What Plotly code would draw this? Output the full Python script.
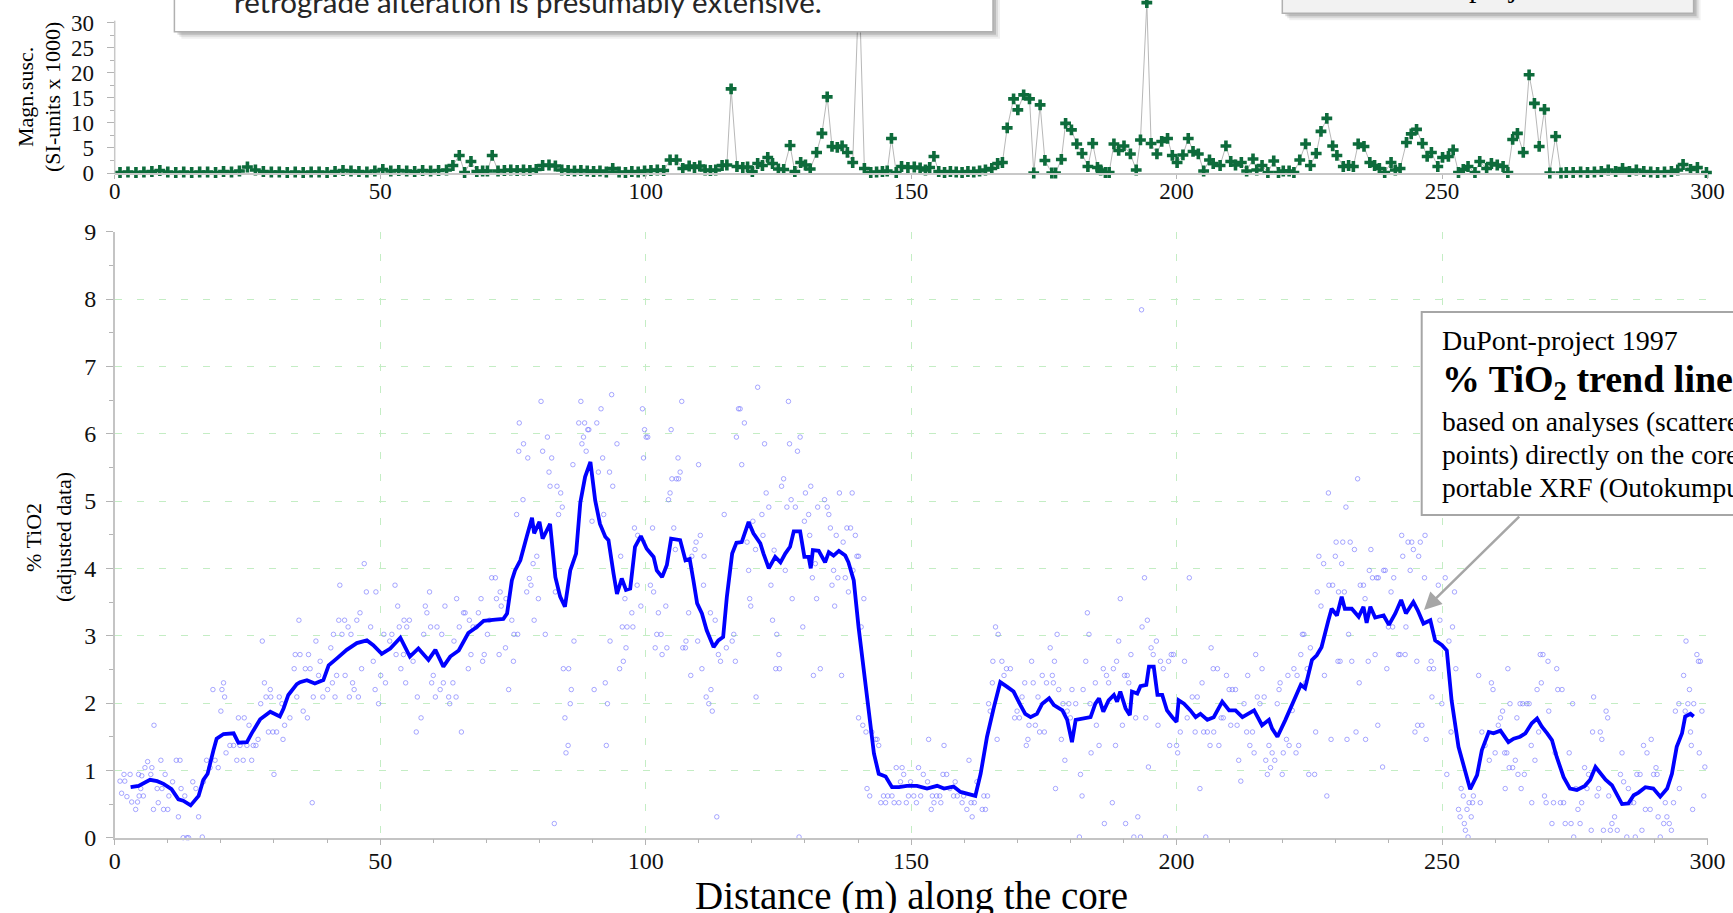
import plotly.graph_objects as go

W, H = 1733, 913


def px(v):
    return v / W


def py(v):
    return 1 - v / H


# ---------------- data ----------------
dist_ticks = [0, 50, 100, 150, 200, 250, 300]
tio2_ticks = [0, 1, 2, 3, 4, 5, 6, 7, 8, 9]
mag_ticks = [0, 5, 10, 15, 20, 25, 30]

# magnetic susceptibility readings (distance m, SI x 1000)
mag_readings = [
    (1, 0.1), (2.5, 0.2), (4, 0.1), (5.5, 0.2), (7, 0.3), (8.5, 0.5), (10, 0.2), (11.5, 0.1), (13, 0.2), (14.5, 0.1),
    (16, 0.2), (17.5, 0.2), (19, 0.1), (20.5, 0.3), (22, 0.2), (23.5, 0.4), (25, 1.2), (26.5, 0.6), (28, 0.3), (29.5, 0.2),
    (31, 0.2), (32.5, 0.1), (34, 0.2), (35.5, 0.1), (37, 0.2), (38.5, 0.2), (40, 0.1), (41.5, 0.3), (43, 0.5), (44.5, 0.4),
    (46, 0.3), (47.5, 0.2), (49, 0.4), (50.5, 0.7), (52, 0.4), (53.5, 0.5), (55, 0.4), (56.5, 0.3), (58, 0.5), (59.5, 0.4),
    (61, 0.5), (62.5, 0.6),
    (63.7, 1.5), (64.9, 3.5), (65.9, 0.1), (67.1, 2.3), (68.2, 0.3), (69.3, 0.4), (70.2, 0.4), (71.1, 3.5), (72.2, 0.4), (73.4, 0.5),
    (74.6, 0.6), (75.8, 0.5), (77, 0.6), (78.2, 0.5), (79.4, 0.7), (80.6, 1.5), (81.8, 1.6), (83, 1.4), (84.2, 0.6), (85.4, 0.5),
    (86.6, 0.4), (87.8, 0.5), (89, 0.4), (90.2, 0.3), (91.4, 0.4), (92.6, 0.2), (93.8, 0.9), (95, 0.2), (96.2, 0.1), (97.4, 0.3),
    (98.6, 0.2), (99.8, 0.4), (101, 0.5), (102.2, 0.6), (103.4, 0.5), (104.6, 2.6), (105.8, 2.6), (107, 0.9), (108.2, 1.4), (109.2, 1.1),
    (110.2, 1.4), (111.2, 0.6), (112.2, 0.5), (113.2, 0.6), (114.4, 1.5), (115.3, 1.6), (116.1, 16.8), (117.2, 1.3), (118.3, 1.1), (119.2, 1.2),
    (120.1, 0.3), (121.1, 1.9), (122, 1.5), (123, 3.1), (123.9, 1.9), (125, 0.8), (126, 0.7), (127.2, 5.5), (128.1, 0.3), (129.2, 2.1),
    (130.1, 1.6), (131, 0.8), (132.2, 4.1), (133.2, 7.9), (134.2, 15.2), (135.1, 5.3), (136.1, 5.1), (137, 5.4), (138, 4.1), (139, 2.1),
    (140.2, 38), (141.2, 0.9), (142.4, 0.1), (143.5, 0.2), (144.6, 0.3), (145.5, 0.4), (146.3, 6.9), (147.2, 0.1), (148.2, 1.3), (149.4, 1.1),
    (150.6, 1.2), (151.7, 1.0), (152.7, 0.6), (153.5, 1.1), (154.3, 3.3), (155.2, 0.3), (156.3, 0.1), (157.4, 0.3), (158.5, 0.2), (159.6, 0.1),
    (160.7, 0.3), (161.8, 0.2), (162.9, 0.4), (164, 0.6), (165.2, 0.9), (166.3, 1.9),
    (167.2, 2.1), (168.1, 9.0), (169.3, 14.8), (170.1, 12.6), (171.2, 15.6), (172.3, 14.8), (173.1, 0), (174.3, 13.6), (175.2, 2.5), (176.5, 0),
    (177.2, 0), (178.3, 2.7), (179.1, 9.9), (180.2, 8.6), (181.2, 5.8), (182.2, 3.9), (183.3, 1.3), (184.2, 5.9), (185.1, 1.1), (185.7, 0.6),
    (186.6, 0.1), (187.3, 0.1), (188.2, 5.8), (189.1, 4.5), (190.1, 5.4), (191.3, 3.8), (192.4, 0.6), (193.2, 6.6), (194.4, 34.0), (195.2, 5.9),
    (196.3, 3.8), (197.2, 6.3), (198.3, 6.9), (199.2, 3.5), (200.1, 2.1), (201.2, 3.6), (202.2, 6.9), (203.1, 4.3), (204.1, 3.8), (205.1, 0.4),
    (206.2, 2.6), (206.9, 1.9), (208.2, 1.5), (209.3, 5.4), (210.2, 2.3), (211.1, 1.6), (212.2, 2.1), (213.2, 0.4), (214.4, 2.8), (215.1, 0.6),
    (216.1, 1.5), (217.2, 0.1), (218.3, 2.4), (219.2, 0.1), (220.1, 0.4), (221.2, 0.4), (222.1, 0.1), (223.2, 2.6), (224.3, 5.8), (225.2, 1.5),
    (226.3, 3.9), (227.2, 8.3), (228.3, 10.9), (229.4, 5.4), (230.2, 3.5), (231.4, 1.3), (232.4, 1.5), (233.3, 1.3), (234.2, 5.8), (235.3, 5.3),
    (236.4, 2.1), (237.3, 1.5), (238.2, 0.9), (239.2, 0.1), (240.4, 2.1), (241.2, 0.6), (242.1, 0.9), (243.3, 6.1), (244.2, 7.8), (245.2, 8.7),
    (246.3, 5.9), (247.2, 3.3), (248.0, 4.1), (249.2, 1.3), (250.1, 3.1), (251.2, 3.3), (252.1, 4.6), (253.1, 0.1), (254.0, 0.7), (254.9, 1.3),
    (256.2, 0.1), (257.1, 2.3), (258.4, 0.9), (259.3, 1.9), (260.4, 1.6), (261.5, 1.3), (262.4, 0.1), (263.3, 6.7), (264.2, 7.9), (265.3, 4.1),
    (266.4, 19.6), (267.4, 13.9), (268.3, 5.3), (269.3, 12.7), (270.3, 0), (271.4, 7.3), (272.4, 0),
    (273.4, 0.1), (274.7, 0.1), (276.1, 0.2), (277.4, 0.1), (278.7, 0.2), (280.0, 0.3), (281.3, 0.6), (282.7, 0.3), (284.0, 0.9), (285.3, 0.3),
    (286.6, 0.6), (288.0, 0.3), (289.3, 0.2), (290.6, 0.1), (291.9, 0.2), (293.2, 0.3), (294.4, 0.6), (295.4, 1.7), (296.8, 0.7), (298.1, 1.1),
    (299.8, 0.1),
]

# TiO2 trend line (distance m, % TiO2)
trend = [
    (3.0, 0.75), (4.5, 0.77), (6.65, 0.86), (8.0, 0.84), (9.2, 0.80), (10.7, 0.72), (12.0, 0.57), (12.9, 0.55), (14.3, 0.48), (15.8, 0.62),
    (16.7, 0.86), (17.5, 0.95), (18.6, 1.30), (19.2, 1.47), (20.5, 1.54), (22.4, 1.55), (23.3, 1.41), (24.9, 1.42), (25.8, 1.55), (27.4, 1.76),
    (29.3, 1.87), (31.1, 1.80), (31.8, 1.92), (32.7, 2.12), (34.3, 2.28), (34.9, 2.31), (36.2, 2.34), (37.7, 2.29), (39.3, 2.34), (40.3, 2.56),
    (41.8, 2.66), (43.7, 2.79), (45.6, 2.89), (47.5, 2.93), (48.7, 2.86), (50.3, 2.73), (51.9, 2.81), (53.8, 2.97), (55.6, 2.69), (57.2, 2.81),
    (59.1, 2.64), (60.4, 2.79), (61.9, 2.54), (63.2, 2.69), (64.8, 2.78), (66.6, 3.04), (68.2, 3.13), (69.5, 3.22), (71.7, 3.24), (73.2, 3.25),
    (73.9, 3.33), (74.8, 3.82), (75.4, 3.97), (76.4, 4.12), (77.6, 4.47), (78.6, 4.75), (79.0, 4.52), (80.0, 4.69), (80.6, 4.44), (82.0, 4.66),
    (83.0, 3.87), (83.9, 3.58), (84.8, 3.43), (85.8, 3.97), (86.9, 4.22), (87.7, 4.98), (88.6, 5.36), (89.6, 5.58), (90.5, 5.01), (91.4, 4.66),
    (92.4, 4.47), (93.0, 4.42), (93.96, 3.92), (94.6, 3.62), (95.5, 3.85), (96.3, 3.68), (97.1, 3.70), (98.0, 4.32), (99.1, 4.48), (100.2, 4.29),
    (101.5, 4.17), (102.1, 3.97), (103.1, 3.87), (104.0, 4.05), (104.8, 4.44), (106.5, 4.42), (107.5, 4.12), (108.3, 4.14), (109.0, 3.82), (109.7, 3.48),
    (110.6, 3.33), (111.5, 3.08), (112.8, 2.83), (113.7, 2.93), (114.6, 2.98), (115.3, 3.58), (116.3, 4.22), (117.1, 4.38), (118.1, 4.39), (119.4, 4.69),
    (120.3, 4.52), (121.6, 4.37), (122.2, 4.22), (123.2, 4.00), (124.4, 4.17), (125.4, 4.09), (126.3, 4.22), (127.2, 4.32), (127.9, 4.55), (129.1, 4.55),
    (129.9, 4.17), (130.7, 4.17), (131.1, 4.00), (131.5, 4.27), (132.6, 4.26), (133.8, 4.09), (134.5, 4.24), (135.4, 4.19), (136.4, 4.26), (137.6, 4.19),
    (138.2, 4.09), (139.2, 3.82), (140.1, 3.13), (141.1, 2.49), (142.0, 1.94), (143.0, 1.25), (143.9, 0.95), (145.2, 0.91), (146.4, 0.75), (147.7, 0.75),
    (149.2, 0.77), (151.1, 0.77), (153.0, 0.73), (154.9, 0.77), (156.2, 0.73), (158.0, 0.76), (159.3, 0.68), (160.5, 0.66), (162.1, 0.62), (163.1, 0.95),
    (164.3, 1.50), (165.6, 1.94), (166.8, 2.31), (168.1, 2.24), (169.3, 2.17), (170.6, 1.97), (171.5, 1.84), (172.5, 1.79), (173.7, 1.84), (174.7, 1.99),
    (176.0, 2.07), (176.9, 1.97), (178.5, 1.89), (179.4, 1.75), (180.3, 1.42), (181.0, 1.75), (182.5, 1.77), (183.8, 1.79), (184.7, 1.99), (185.4, 2.07),
    (186.2, 1.87), (187.2, 2.04), (188.2, 2.12), (188.8, 2.02), (189.4, 2.17), (190.4, 1.92), (191.2, 1.82), (191.6, 2.17), (192.6, 2.14), (193.2, 2.25),
    (194.3, 2.27), (194.8, 2.54), (195.7, 2.54), (196.4, 2.12), (197.3, 2.12), (198.2, 1.89), (199.2, 1.79), (200.0, 1.72), (200.4, 2.04), (201.4, 1.99),
    (202.6, 1.89), (203.6, 1.79), (204.5, 1.84), (205.8, 1.75), (207.0, 1.79), (208.6, 2.02), (209.9, 1.89), (211.1, 1.89), (212.4, 1.79), (213.6, 1.84),
    (214.6, 1.89), (216.1, 1.67), (217.4, 1.75), (218.0, 1.62), (219.0, 1.50), (220.5, 1.75), (221.8, 1.97), (223.4, 2.27), (224.2, 2.22), (225.5, 2.64),
    (226.4, 2.71), (227.3, 2.83), (228.6, 3.23), (229.2, 3.40), (230.2, 3.30), (231.1, 3.58), (231.7, 3.40), (233.0, 3.40), (234.3, 3.28), (235.2, 3.43),
    (235.8, 3.19), (236.5, 3.43), (237.4, 3.27), (239.0, 3.30), (240.0, 3.16), (241.2, 3.33), (242.3, 3.53), (243.2, 3.33), (244.6, 3.50), (245.4, 3.38),
    (246.5, 3.18), (247.8, 3.23), (248.7, 2.93), (250.0, 2.86), (250.9, 2.78), (251.8, 2.04), (253.1, 1.35), (254.4, 1.00), (255.3, 0.72), (256.6, 0.93),
    (257.5, 1.30), (258.8, 1.57), (259.7, 1.55), (261.0, 1.59), (262.5, 1.42), (263.5, 1.47), (264.7, 1.50), (265.7, 1.55), (266.9, 1.70), (267.9, 1.77),
    (268.8, 1.65), (269.8, 1.55), (270.7, 1.45), (271.6, 1.20), (272.9, 0.90), (274.1, 0.73), (275.4, 0.71), (276.9, 0.77), (277.9, 0.86), (278.9, 1.05),
    (279.8, 0.95), (280.8, 0.86), (282.0, 0.78), (283.0, 0.63), (283.9, 0.50), (285.1, 0.51), (286.1, 0.63), (287.0, 0.67), (288.3, 0.75), (289.8, 0.73),
    (291.1, 0.61), (292.4, 0.73), (293.3, 0.95), (294.2, 1.35), (295.2, 1.55), (295.8, 1.80), (296.8, 1.84), (297.4, 1.80),
]

# XRF analyses on the core (distance m, % TiO2), by core section
samples_0_76 = [
    (1.0, 0.84), (1.75, 0.94), (1.9, 0.84), (1.3, 0.66), (2.3, 0.61), (2.9, 0.94), (3.2, 0.53), (3.95, 0.42), (4.3, 0.53), (4.5, 0.94),
    (5.1, 0.92), (4.9, 0.73), (4.6, 0.62), (5.4, 0.62), (5.7, 1.04), (6.2, 1.13), (7.0, 1.04), (6.8, 0.94), (7.4, 1.67), (7.3, 0.42),
    (8.0, 0.73), (8.2, 0.52), (8.7, 1.15), (8.9, 0.73), (9.2, 0.42), (9.5, 0.94), (10.0, 0.42), (10.2, 0.62), (10.9, 0.83), (11.6, 1.15),
    (12.3, 1.15), (12.0, 0.31), (12.5, 0.73), (13.2, 0.62), (12.9, 0.0), (13.6, 0.0), (13.9, 0.0), (14.7, 0.83), (15.3, 0.73), (15.8, 0.31),
    (16.5, 0.01), (16.7, 0.83), (17.3, 1.15), (17.96, 1.04), (18.9, 1.15), (19.5, 1.04), (18.5, 2.20), (20.2, 2.20), (20.5, 2.30), (20.7, 2.09),
    (20.0, 1.88), (20.97, 1.26), (21.7, 1.37), (22.4, 1.37), (23.0, 1.15), (23.3, 1.78), (23.6, 1.37), (24.2, 1.15), (24.4, 1.78), (24.9, 1.37),
    (25.3, 1.67), (25.8, 1.15), (26.1, 1.37), (26.6, 1.37), (27.0, 1.46), (27.5, 1.99), (27.8, 2.92), (28.2, 2.30), (28.5, 2.09), (29.3, 2.20),
    (29.4, 2.09), (28.95, 1.57), (29.8, 1.57), (30.0, 0.94), (30.5, 1.57), (31.0, 2.09), (31.5, 1.99), (31.7, 1.46), (32.0, 1.67), (33.0, 1.78),
    (33.8, 2.51), (34.0, 2.72), (34.3, 2.09), (34.7, 3.23), (34.9, 2.72), (35.5, 1.88), (35.9, 2.51), (36.3, 1.78), (36.5, 2.72), (36.8, 2.51),
    (37.2, 0.52), (37.4, 2.09), (37.9, 2.92), (38.4, 2.41), (38.7, 2.62), (39.2, 2.09), (40.1, 2.20), (40.7, 2.82), (41.0, 2.30), (41.5, 2.09),
    (41.2, 3.02), (41.8, 2.41), (42.2, 3.23), (42.4, 3.75), (42.8, 3.02), (43.3, 3.23), (43.4, 2.41), (43.96, 3.13), (44.2, 2.09), (44.5, 3.02),
    (44.8, 2.30), (45.1, 2.20), (45.6, 3.23), (45.9, 2.09), (46.2, 3.34), (46.5, 2.51), (47.0, 4.07), (47.4, 3.65), (48.2, 3.13), (48.7, 2.62),
    (49.05, 2.20), (49.2, 3.65), (49.7, 1.99), (50.1, 2.41), (50.7, 3.02), (51.0, 2.30), (51.8, 2.92), (52.2, 3.02), (52.8, 3.75), (53.0, 2.72),
    (53.3, 3.44), (53.6, 3.13), (53.9, 2.51), (54.4, 2.72), (54.5, 3.23), (54.8, 2.30), (55.0, 3.13), (55.5, 3.23), (56.2, 2.62), (56.8, 1.57),
    (57.0, 2.09), (57.7, 1.78), (58.2, 3.02), (58.5, 3.44), (58.8, 3.34), (59.3, 3.65), (59.5, 3.13), (59.7, 2.30), (60.0, 2.41), (60.4, 2.09),
    (60.7, 3.13), (61.3, 2.20), (61.6, 3.02), (61.9, 2.30), (62.2, 3.44), (62.9, 2.09), (63.1, 1.99), (63.7, 2.30), (63.9, 2.92), (64.3, 2.09),
    (64.4, 3.55), (64.9, 3.13), (65.3, 1.57), (65.7, 3.34), (66.0, 3.34), (66.6, 2.51), (66.8, 3.23), (67.1, 2.72), (67.5, 3.13), (68.1, 3.13),
    (68.5, 3.34), (69.0, 3.55), (69.3, 2.62), (69.6, 2.72), (70.2, 3.02), (70.6, 3.23), (71.0, 3.86), (71.7, 3.86), (71.9, 3.55), (72.4, 2.72),
    (72.6, 3.65), (72.8, 3.44), (73.6, 2.82), (73.7, 3.55), (74.2, 2.20), (74.8, 3.23), (75.1, 2.62), (75.2, 3.02), (75.7, 4.80), (76.1, 5.74),
    (76.2, 6.16), (75.9, 3.02),
]
samples_76_152 = [
    (76.9, 5.02), (77.0, 5.85), (77.6, 3.65), (77.8, 5.64), (78.1, 3.85), (78.4, 3.75), (78.8, 4.07), (79.0, 3.23), (79.5, 4.18), (79.8, 3.55),
    (80.3, 6.48), (80.6, 5.74), (81.1, 3.02), (81.5, 5.95), (81.8, 5.43), (82.0, 5.22), (82.3, 5.64), (82.8, 0.21), (83.0, 3.65), (83.3, 5.22),
    (83.6, 4.80), (84.0, 5.12), (84.3, 4.91), (84.5, 2.51), (84.8, 1.78), (85.0, 1.26), (85.4, 1.37), (85.5, 2.51), (85.8, 1.99), (86.0, 2.20),
    (86.3, 5.54), (86.5, 2.92), (87.4, 6.16), (87.8, 6.48), (88.0, 5.85), (88.3, 5.95), (88.5, 6.16), (88.8, 5.74), (89.1, 6.06), (89.3, 6.06),
    (89.9, 4.70), (90.3, 2.20), (90.8, 6.16), (91.1, 5.43), (91.6, 6.37), (91.9, 5.64), (92.1, 4.80), (92.4, 2.30), (92.6, 1.37), (92.8, 1.99),
    (93.2, 5.43), (93.3, 2.92), (93.6, 6.58), (93.8, 5.22), (94.6, 5.85), (95.1, 2.51), (95.3, 4.18), (95.6, 3.13), (95.8, 2.62), (96.1, 3.55),
    (96.3, 2.82), (96.5, 3.13), (97.4, 3.34), (97.6, 3.13), (97.9, 4.60), (98.4, 3.75), (98.5, 4.49), (99.1, 3.44), (99.4, 6.37), (99.6, 5.64),
    (99.8, 6.06), (100.1, 5.95), (100.4, 5.95), (100.9, 3.75), (101.3, 4.60), (101.5, 3.65), (101.8, 2.82), (102.1, 3.02), (102.4, 3.34), (102.9, 3.02),
    (103.1, 2.72), (103.8, 3.44), (104.0, 2.82), (104.3, 5.02), (104.6, 5.12), (104.8, 6.06), (104.95, 5.33), (105.3, 4.60), (105.6, 4.28), (105.8, 5.33),
    (106.1, 5.64), (106.2, 5.33), (106.5, 5.43), (106.8, 6.48), (107.0, 2.82), (107.5, 2.82), (107.6, 2.92), (108.1, 3.34), (108.5, 2.41), (108.7, 4.18),
    (109.3, 4.28), (109.5, 4.39), (109.8, 2.92), (109.97, 5.54), (110.3, 4.49), (110.6, 2.51), (110.9, 3.75), (111.0, 4.18), (111.4, 2.09), (111.9, 1.99),
    (112.2, 3.34), (112.3, 2.20), (112.55, 1.88), (113.1, 3.23), (113.4, 0.31), (113.7, 2.72), (114.1, 2.62), (114.8, 4.80), (115.2, 2.82), (116.3, 2.92),
    (116.6, 3.02), (116.9, 2.62), (117.1, 5.95), (117.5, 6.37), (117.8, 6.37), (118.1, 5.54), (118.6, 6.16), (119.1, 4.39), (119.4, 3.97), (119.6, 3.55),
    (119.8, 3.44), (120.2, 4.70), (120.7, 4.28), (120.8, 2.09), (121.1, 6.69), (121.9, 4.80), (122.1, 4.49), (122.4, 5.85), (122.7, 5.12), (123.2, 4.91),
    (123.6, 3.75), (123.9, 3.23), (124.2, 4.27), (124.5, 2.51), (124.7, 3.02), (125.1, 2.72), (125.2, 2.51), (125.6, 5.22), (125.99, 5.33), (126.3, 3.97),
    (126.6, 4.91), (126.9, 6.48), (127.1, 5.85), (127.4, 5.02), (127.6, 3.55), (128.2, 4.91), (128.6, 5.74), (128.9, 0.01), (129.1, 5.95), (129.6, 3.13),
    (129.9, 4.70), (130.1, 5.12), (130.7, 4.80), (130.9, 4.49), (131.1, 5.22), (131.4, 3.86), (131.6, 2.41), (131.96, 4.07), (132.2, 3.55), (132.4, 4.91),
    (132.9, 2.51), (133.7, 5.02), (134.2, 4.91), (134.5, 4.80), (134.8, 4.60), (135.1, 3.75), (135.4, 3.97), (135.6, 3.44), (135.9, 4.49), (136.2, 3.86),
    (136.5, 5.12), (136.9, 2.41), (137.2, 4.39), (137.6, 3.86), (137.9, 4.60), (138.2, 3.65), (138.6, 4.60), (138.9, 5.12), (139.05, 3.97), (139.5, 4.49),
    (139.8, 4.18), (140.1, 4.18), (140.6, 3.13), (141.1, 3.55), (140.1, 1.78), (140.9, 1.67), (141.5, 1.57), (141.7, 0.73), (142.2, 0.62), (142.6, 1.57),
    (143.3, 1.46), (143.9, 1.37), (143.6, 1.46), (144.3, 0.52), (144.8, 0.62), (145.2, 0.52), (145.6, 0.62), (146.4, 0.62), (146.8, 0.52), (147.2, 1.04),
    (147.7, 0.52), (148.0, 0.83), (148.3, 1.04), (148.6, 0.94), (149.1, 0.52), (149.5, 0.62), (149.9, 0.83), (150.5, 0.62), (151.0, 0.52), (151.4, 1.04),
]
samples_152_227 = [
    (151.8, 0.62), (152.3, 0.94), (153.1, 0.83), (153.3, 1.46), (153.8, 0.42), (154.0, 0.62), (154.3, 0.52), (154.8, 0.62), (155.4, 0.62), (155.6, 0.52),
    (156.2, 1.37), (156.0, 0.94), (156.7, 0.94), (157.3, 0.73), (158.0, 0.62), (158.3, 0.83), (158.7, 0.62), (159.6, 0.52), (159.9, 0.62), (160.5, 0.42),
    (160.9, 1.15), (161.3, 0.52), (161.5, 0.31), (161.9, 0.52), (162.4, 0.83), (163.4, 0.42), (163.7, 0.62), (164.0, 0.42), (164.4, 0.62), (164.6, 1.99),
    (164.9, 1.88), (165.3, 2.30), (165.4, 2.62), (165.9, 3.13), (166.2, 1.46), (166.4, 3.02), (167.1, 2.62), (167.5, 2.41), (167.96, 2.51), (168.7, 2.51),
    (169.5, 1.78), (169.96, 1.88), (170.4, 1.78), (170.9, 2.09), (171.4, 2.30), (171.7, 1.37), (172.0, 1.46), (172.2, 1.67), (172.7, 2.62), (173.0, 2.30),
    (173.4, 1.67), (173.9, 2.09), (174.2, 1.57), (174.7, 2.41), (175.1, 1.57), (175.5, 2.30), (176.2, 2.82), (176.6, 2.41), (176.8, 2.30), (177.0, 2.62),
    (177.2, 0.73), (177.5, 3.02), (177.8, 2.20), (178.3, 1.46), (178.6, 1.99), (178.96, 1.15), (179.4, 1.88), (179.7, 1.99), (180.0, 1.78), (180.3, 2.20),
    (181.0, 1.99), (181.7, 0.01), (181.9, 0.94), (182.2, 0.62), (182.4, 2.20), (182.9, 2.62), (183.2, 3.34), (183.5, 3.02), (183.7, 1.99), (183.9, 1.26),
    (184.7, 2.30), (184.9, 1.67), (185.4, 1.37), (186.2, 2.51), (186.4, 0.21), (186.8, 2.41), (187.2, 2.30), (187.9, 0.52), (188.1, 2.51), (188.5, 1.37),
    (188.7, 2.62), (189.1, 2.92), (189.4, 3.55), (189.8, 1.67), (190.2, 2.41), (190.4, 0.21), (190.7, 2.41), (191.0, 2.30), (191.4, 2.72), (191.95, 0.01),
    (192.3, 1.78), (192.7, 0.31), (193.2, 0.01), (193.5, 3.13), (193.96, 3.86), (194.5, 3.23), (194.2, 1.78), (194.7, 1.05), (195.2, 2.82), (195.6, 2.72),
    (196.2, 2.92), (196.5, 1.67), (196.98, 2.62), (197.5, 2.51), (197.9, 0.01), (198.5, 2.62), (198.7, 1.37), (199.0, 2.72), (199.4, 2.72), (200.0, 1.37),
    (200.2, 1.26), (200.7, 1.57), (201.5, 2.62), (202.0, 1.78), (202.4, 3.86), (202.95, 2.09), (203.5, 1.57), (203.9, 2.09), (204.4, 0.73), (204.8, 2.30),
    (205.1, 1.57), (205.5, 0.01), (205.8, 1.57), (206.3, 1.37), (206.5, 2.82), (206.9, 2.51), (207.0, 1.57), (207.7, 2.51), (207.97, 1.37), (208.4, 1.78),
    (208.8, 1.78), (209.4, 2.41), (209.9, 2.20), (210.2, 1.67), (210.5, 2.20), (211.1, 2.20), (211.4, 1.67), (211.7, 1.15), (212.1, 0.84), (212.7, 1.99),
    (213.2, 1.57), (213.4, 2.41), (213.8, 1.37), (214.3, 1.57), (214.6, 1.26), (214.9, 2.72), (215.2, 2.09), (215.7, 1.99), (216.1, 2.51), (216.5, 2.09),
    (216.8, 1.15), (217.1, 0.94), (217.4, 1.37), (217.7, 1.04), (218.0, 1.26), (218.5, 1.15), (218.96, 1.99), (219.3, 2.20), (219.5, 2.30), (219.9, 0.94),
    (220.1, 1.26), (220.7, 1.46), (220.97, 2.41), (221.2, 1.37), (221.8, 1.89), (222.1, 2.51), (222.5, 1.26), (222.7, 2.41), (223.0, 1.37), (223.4, 2.72),
    (223.7, 3.02), (223.98, 3.02), (224.3, 2.30), (224.6, 2.51), (224.9, 0.94), (225.2, 2.82), (226.0, 0.94), (226.2, 1.57), (226.5, 3.65), (226.8, 4.18),
    (193.4, 7.84),
]
samples_227_300 = [
    (227.2, 3.44), (227.7, 4.07), (227.85, 2.41), (228.3, 0.62), (228.6, 5.12), (228.7, 3.75), (229.1, 1.46), (229.4, 3.75), (229.9, 4.18), (230.05, 4.39),
    (230.4, 2.62), (230.5, 3.65), (230.8, 2.62), (231.1, 4.07), (231.3, 4.39), (231.6, 3.65), (231.9, 4.91), (232.1, 1.46), (232.4, 3.02), (232.7, 4.39),
    (233.0, 2.62), (233.5, 4.28), (233.8, 1.57), (234.1, 5.33), (234.4, 2.30), (234.6, 3.75), (235.2, 3.75), (235.5, 3.55), (235.6, 1.46), (236.1, 2.62),
    (236.3, 3.97), (236.6, 4.28), (236.9, 3.86), (237.4, 2.72), (237.7, 3.86), (238.0, 3.86), (237.9, 1.67), (238.8, 1.05), (239.0, 3.97), (239.3, 3.97),
    (239.6, 2.51), (239.9, 3.13), (240.4, 3.65), (240.7, 3.13), (240.9, 3.86), (241.8, 2.72), (242.1, 2.72), (242.4, 4.49), (242.6, 4.18), (243.05, 2.72),
    (243.2, 3.13), (243.6, 4.39), (244.0, 3.97), (244.3, 4.39), (244.6, 4.28), (244.9, 1.57), (245.25, 2.62), (245.4, 1.67), (245.6, 4.18), (245.9, 4.39),
    (246.2, 1.67), (246.7, 3.86), (246.8, 4.49), (247.0, 1.46), (247.6, 2.51), (247.95, 2.62), (248.1, 2.09), (248.4, 2.51), (249.3, 3.75), (249.6, 3.23),
    (249.96, 1.99), (250.6, 3.86), (250.9, 0.94), (251.3, 2.92), (251.7, 1.57), (251.97, 3.13), (252.35, 3.65), (252.6, 2.51), (253.1, 0.42), (253.4, 0.31),
    (253.6, 0.73), (254.0, 0.62), (254.2, 0.21), (254.4, 0.11), (254.7, 0.42), (254.9, 0.01), (255.1, 0.52), (255.5, 0.31), (255.75, 0.52), (255.9, 0.62),
    (256.9, 2.41), (257.2, 0.52), (257.5, 1.57), (258.1, 1.37), (258.9, 1.15), (259.3, 2.30), (259.6, 2.20), (260.0, 1.26), (260.6, 1.67), (261.0, 1.78),
    (261.4, 1.88), (261.8, 1.26), (261.9, 0.73), (262.2, 1.26), (262.4, 2.51), (262.65, 1.04), (262.8, 1.99), (263.3, 1.04), (263.8, 1.15), (264.1, 1.78),
    (264.3, 0.94), (264.7, 1.99), (264.9, 0.73), (265.2, 1.99), (265.5, 0.94), (265.98, 1.99), (266.4, 1.99), (266.8, 1.37), (266.9, 0.52), (267.5, 1.15),
    (267.9, 2.20), (268.2, 1.57), (268.5, 2.72), (268.7, 2.30), (269.0, 2.72), (269.3, 0.62), (269.6, 0.52), (269.96, 2.62), (270.1, 1.88), (270.7, 0.21),
    (271.0, 0.52), (271.3, 1.26), (271.6, 2.51), (271.8, 2.20), (272.3, 0.52), (272.6, 2.20), (272.9, 0.52), (273.2, 0.21), (273.95, 1.26), (274.3, 0.21),
    (274.6, 1.99), (274.8, 0.01), (275.2, 0.73), (275.6, 0.42), (276.0, 0.21), (276.3, 0.52), (276.85, 1.04), (277.3, 0.73), (277.6, 0.94), (278.1, 0.11),
    (278.35, 1.57), (278.55, 2.09), (279.2, 0.62), (279.5, 0.73), (279.8, 1.57), (280.1, 1.46), (280.4, 0.11), (280.9, 1.88), (281.2, 1.78), (281.4, 0.62),
    (281.7, 0.11), (282.0, 0.21), (282.5, 0.31), (283.0, 0.11), (283.6, 0.94), (283.9, 1.26), (284.2, 0.83), (284.8, 0.01), (285.1, 0.73), (285.45, 0.52),
    (286.1, 0.52), (286.4, 0.01), (286.7, 0.94), (287.3, 0.94), (287.65, 0.11), (287.95, 1.37), (288.3, 0.42), (288.6, 1.26), (289.2, 0.42), (289.4, 1.46),
    (289.85, 0.94), (290.3, 1.04), (290.5, 0.94), (290.7, 0.31), (291.1, 0.01), (291.75, 0.21), (292.05, 0.52), (292.35, 0.31), (292.8, 0.21), (293.2, 0.11),
    (293.6, 0.52), (293.95, 1.88), (294.6, 1.99), (294.7, 0.73), (295.5, 2.41), (295.8, 1.88), (295.95, 2.92), (296.3, 1.99), (296.6, 2.20), (296.8, 1.57),
    (296.95, 1.37), (297.2, 0.42), (297.4, 1.99), (298.0, 2.72), (298.3, 2.62), (298.65, 2.62), (298.95, 1.88), (298.45, 1.26), (299.3, 0.62), (299.5, 1.05),
]

# ---------------- figure ----------------
SERIF = "Liberation Serif, Times New Roman, serif"

all_samples = samples_0_76 + samples_76_152 + samples_152_227 + samples_227_300

fig = go.Figure()
fig.add_trace(go.Scatter(
    x=[p[0] for p in all_samples], y=[p[1] for p in all_samples],
    mode="markers", xaxis="x", yaxis="y", cliponaxis=False,
    marker=dict(symbol="circle-open", size=4.5, color="rgba(110,110,255,0.6)", line=dict(width=1)),
    hoverinfo="skip",
))
fig.add_trace(go.Scatter(
    x=[p[0] for p in trend], y=[p[1] for p in trend],
    mode="lines", xaxis="x", yaxis="y",
    line=dict(color="#0000ff", width=3.8),
))
fig.add_trace(go.Scatter(
    x=[p[0] for p in mag_readings], y=[p[1] for p in mag_readings],
    mode="lines+markers", xaxis="x2", yaxis="y2", cliponaxis=False,
    line=dict(color="#b8b8b8", width=1),
    marker=dict(symbol="cross", size=9, color="#0d6b3b", line=dict(width=0)),
))

X_DOM = [px(114.7), px(1707.5)]
tickfont = dict(family=SERIF, size=24, color="#111111")
grid_col = "#c4edc4"

fig.update_layout(
    width=W, height=H, autosize=False,
    margin=dict(l=0, r=0, t=0, b=0, pad=0, autoexpand=False),
    paper_bgcolor="white", plot_bgcolor="white",
    showlegend=False,
    xaxis=dict(
        domain=X_DOM, range=[0, 300], anchor="y",
        tickmode="array", tickvals=dist_ticks,
        ticks="outside", ticklen=6, tickwidth=1, tickcolor="#b4b4b4",
        minor=dict(ticks="outside", dtick=10, ticklen=4, tickcolor="#b4b4b4", showgrid=False),
        showline=True, linecolor="#c4c4c4", linewidth=1.5,
        showgrid=True, gridcolor=grid_col, gridwidth=1, griddash="7px,15px",
        zeroline=False, tickfont=tickfont, ticklabelstandoff=-5, automargin=False,
    ),
    yaxis=dict(
        domain=[py(837.7), py(231.7)], range=[0, 9], anchor="x",
        tickmode="array", tickvals=tio2_ticks,
        ticks="outside", ticklen=7, tickwidth=1, tickcolor="#b4b4b4",
        minor=dict(ticks="outside", dtick=0.5, ticklen=4, tickcolor="#b4b4b4", showgrid=False),
        showline=True, linecolor="#c4c4c4", linewidth=1.5,
        showgrid=True, gridcolor=grid_col, gridwidth=1, griddash="7px,15px",
        zeroline=False, tickfont=tickfont, ticklabelstandoff=5, automargin=False,
    ),
    xaxis2=dict(
        domain=X_DOM, range=[0, 300], anchor="y2",
        tickmode="array", tickvals=dist_ticks,
        ticks="outside", ticklen=4, tickcolor="#b4b4b4",
        showline=True, linecolor="#c8c8c8", linewidth=1.5,
        showgrid=False, zeroline=False,
        tickfont=dict(family=SERIF, size=23, color="#111111"), ticklabelstandoff=-7, automargin=False,
    ),
    yaxis2=dict(
        domain=[py(173), 1.0], range=[0, 173 / 5.01], anchor="x2",
        tickmode="array", tickvals=mag_ticks,
        ticks="outside", ticklen=7, tickcolor="#b4b4b4",
        minor=dict(ticks="outside", tickvals=[2.5, 7.5, 12.5, 17.5, 22.5, 27.5], ticklen=4, tickcolor="#b4b4b4"),
        showline=False, showgrid=False, zeroline=False,
        tickfont=dict(family=SERIF, size=23, color="#111111"), ticklabelstandoff=8, automargin=False,
    ),
)

shapes = []
# y axis line of the magnetic plot (only up to 30)
shapes.append(dict(type="line", xref="paper", yref="y2", x0=px(114.7), x1=px(114.7), y0=0, y1=30.4,
                   line=dict(color="#c8c8c8", width=1.5), layer="above"))


def shadowed_box(x0, x1, y0, y1, fill):
    out = []
    for off, alpha in ((7, 0.06), (5, 0.09), (3, 0.14)):
        out.append(dict(type="rect", xref="paper", yref="paper",
                        x0=px(x0 + off), x1=px(x1 + off), y0=py(y0), y1=py(y1 + off),
                        line=dict(width=0), fillcolor=f"rgba(0,0,0,{alpha})", layer="above"))
    out.append(dict(type="rect", xref="paper", yref="paper",
                    x0=px(x0), x1=px(x1), y0=py(y0), y1=py(y1),
                    line=dict(color="#b0b0b0", width=1.5), fillcolor=fill, layer="above"))
    return out


shapes += shadowed_box(174.4, 993, -10, 31.7, "white")
shapes += shadowed_box(1282.3, 1693.6, -10, 13.3, "#f2f2f2")
# DuPont legend box
shapes.append(dict(type="rect", xref="paper", yref="paper",
                   x0=px(1421.7), x1=px(1760), y0=py(312), y1=py(515),
                   line=dict(color="#a6a6a6", width=2), fillcolor="white", layer="above"))
fig.update_layout(shapes=shapes)

ann = []


def text_ann(text, x, y, size, anchor_x="left", anchor_y="top", angle=0, font=SERIF, color="#000000"):
    ann.append(dict(text=text, xref="paper", yref="paper", x=px(x), y=py(y),
                    xanchor=anchor_x, yanchor=anchor_y, textangle=angle, showarrow=False,
                    font=dict(family=font, size=size, color=color), borderpad=0))


# axis titles
text_ann("Magn.susc.", 26, 97, 22, "center", "middle", -90)
text_ann("(SI-units x 1000)", 53, 97, 22, "center", "middle", -90)
text_ann("% TiO2", 33, 538, 22, "center", "middle", -90)
text_ann("(adjusted data)", 63, 537, 22, "center", "middle", -90)
text_ann("Distance (m) along the core", 912, 896, 39, "center", "middle")

# top-left note (mostly above the window)
text_ann("retrograde alteration is presumably extensive.", 233, -17, 29.5, "left", "top", font="Lato, sans-serif", color="#262626")
# top-right note (mostly above the window)
text_ann("project", 1468, -31, 30, "left", "top")

# DuPont legend text
text_ann("DuPont-project 1997", 1441, 324, 28)
text_ann("<b>% TiO<sub>2</sub> trend line</b>", 1441, 357, 38)
text_ann("based on analyses (scattered", 1441, 405, 27.5)
text_ann("points) directly on the core with", 1441, 438, 27.5)
text_ann("portable XRF (Outokumpu X-MET)", 1441, 471, 27.5)

# arrow to the trend line
ann.append(dict(text="", x=246.6, y=3.38, xref="x", yref="y", showarrow=True,
                ax=96.7, ay=-95, axref="pixel", ayref="pixel",
                arrowhead=2, arrowsize=1.4, arrowwidth=2.5, arrowcolor="#a6a6a6"))

fig.update_layout(annotations=ann)

fig.write_html("out.html")
